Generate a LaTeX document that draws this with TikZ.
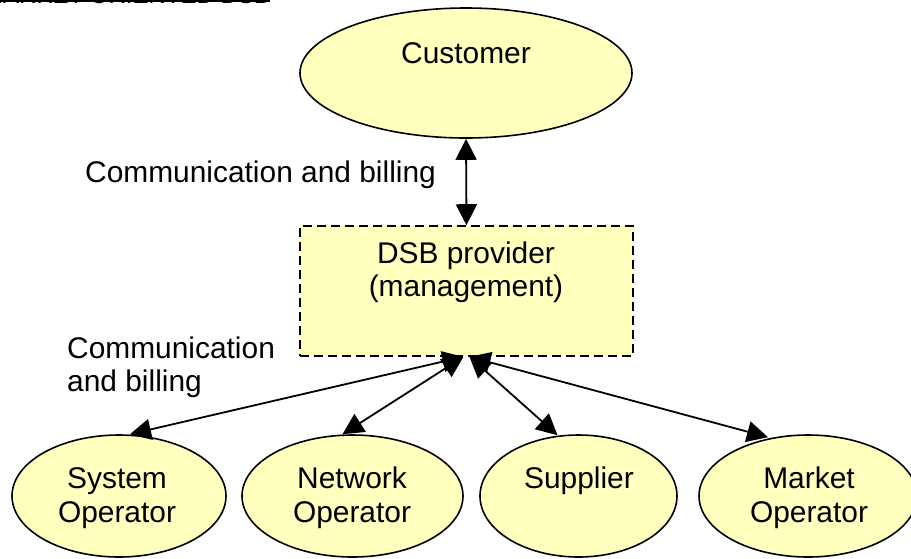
\documentclass[tikz,border=0pt]{standalone}
\usepackage{fontspec}
\setmainfont{Liberation Sans}
\usetikzlibrary{arrows.meta,shapes.geometric}
\definecolor{shapefill}{RGB}{255,255,190}
\tikzset{
  txt/.style={font=\fontsize{29.9}{34}\selectfont, inner sep=0pt, anchor=base},
  ltxt/.style={txt, anchor=base west},
  oval/.style={ellipse, draw=black, line width=1.6pt, fill=shapefill, inner sep=0pt},
  dsbbox/.style={rectangle, draw=black, line width=1.6pt, dash pattern=on 9pt off 5pt, fill=shapefill, inner sep=0pt},
  link/.style={line width=1.8pt, {Triangle[length=21pt,width=21pt]}-{Triangle[length=21pt,width=21pt]}}
}
\begin{document}
\begin{tikzpicture}[x=1pt,y=-1pt]
\useasboundingbox (0,0) rectangle (911,558);
\clip (0,0) rectangle (911,558);
\fill[white] (0,0) rectangle (911,558);
% title (clipped at top, as in the reference)
\node (title) [font=\fontsize{24}{28}\selectfont, inner sep=0pt, anchor=base west] at (-17,3) {MARKET ORIENTED DSB};
\draw[line width=2pt] (title.base west) ++(0,-2.5) -- ++(287,0);
% customer
\node (cust) [oval, minimum width=332pt, minimum height=130pt] at (466,73) {};
\node (custt) [txt] at (466,63) {Customer};
% DSB provider
\node (dsb) [dsbbox, minimum width=333pt, minimum height=130pt] at (466.5,291) {};
\node (dsbt1) [txt] at (466,263) {DSB provider};
\node (dsbt2) [txt] at (466,296) {(management)};
% labels
\node (lab1) [ltxt] at (85,182) {Communication and billing};
\node (lab2a) [ltxt] at (67,358) {Communication};
\node (lab2b) [ltxt] at (67,391) {and billing};
% bottom ellipses
\node (so) [oval, minimum width=214pt, minimum height=122pt] at (119,496) {};
\node (sot1) [txt] at (117,488) {System};
\node (sot2) [txt] at (117,522) {Operator};
\node (no) [oval, minimum width=221pt, minimum height=122pt] at (352.5,496) {};
\node (not1) [txt] at (352,488) {Network};
\node (not2) [txt] at (352,522) {Operator};
\node (su) [oval, minimum width=197pt, minimum height=122pt] at (578.5,496) {};
\node (sut1) [txt] at (579,488) {Supplier};
\node (mo) [oval, minimum width=218pt, minimum height=122pt] at (808,496) {};
\node (mot1) [txt] at (809,488) {Market};
\node (mot2) [txt] at (809,522) {Operator};
% connectors
\draw[link] (cust.south) -- (dsb.north);
\draw[link] ([xshift=-3pt]dsb.south) -- ([xshift=11pt]so.north);
\draw[link] ([xshift=-3pt]dsb.south) -- ([xshift=-10pt]no.north);
\draw[link] ([xshift=3pt]dsb.south) -- ([xshift=-21pt,yshift=-1pt]su.north);
\draw[link] ([xshift=3pt]dsb.south) -- ([xshift=-40pt,yshift=-3pt]mo.north);
\end{tikzpicture}
\end{document}
